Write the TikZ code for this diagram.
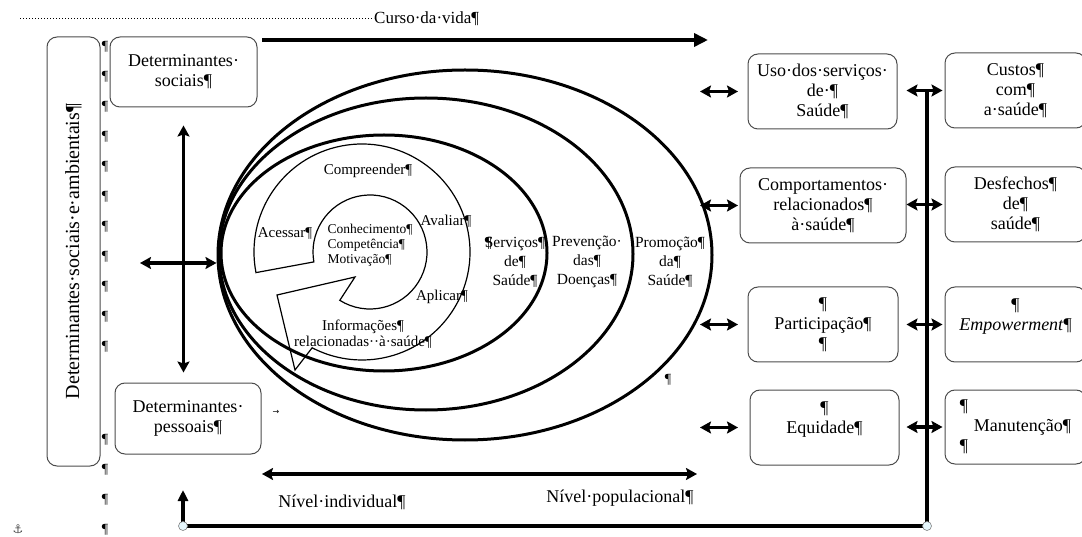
\documentclass[tikz,border=0pt]{standalone}
\usepackage{fontspec}
\setmainfont{Liberation Serif}
\newfontfamily\simbolos{DejaVu Sans}
\usetikzlibrary{arrows.meta, positioning, shapes.geometric, calc}

\tikzset{
  caixa/.style={draw=black!70, line width=1pt, rounded corners=10pt, align=center, inner sep=0pt, font=\fontsize{18}{20}\selectfont},
  elipse/.style={ellipse, draw, line width=3pt, inner sep=0pt},
  rotulo/.style={align=center, inner sep=0pt, font=\fontsize{15.5}{19}\selectfont},
  anel/.style={align=center, inner sep=0pt, font=\fontsize{15}{16.5}\selectfont},
  texto/.style={inner sep=0pt, font=\fontsize{18}{20}\selectfont},
  marca/.style={inner sep=0pt, font=\fontsize{14}{14}\selectfont},
  seta/.style={line width=4pt, -{Triangle[length=14pt, width=13pt]}},
  dupla/.style={line width=3.5pt, {Stealth[length=11pt, width=12pt, inset=2pt]}-{Stealth[length=11pt, width=12pt, inset=2pt]}},
  linhagrossa/.style={line width=4pt},
}

\begin{document}
\begin{tikzpicture}[x=1pt, y=-1pt]
    \useasboundingbox (0,0) rectangle (1082,537);
    \clip (0,0) rectangle (1082,537);

    % curso da vida
    \coordinate (pontilhado) at (20,19);
    \node[texto, font=\fontsize{17}{20}\selectfont, anchor=west] (curso) at (374,19) {Curso·da·vida¶};
    \draw[dotted, line width=1pt] (pontilhado) -- (curso.west);
    \coordinate (vidaA) at (262,40);
    \coordinate (vidaB) at (708,40);
    \draw[seta] (vidaA) -- (vidaB);

    % elipses
    \node[elipse, minimum width=494, minimum height=370] (epromo) at (465,255) {};
    \node[elipse, minimum width=414, minimum height=312] (eprev) at (426,254) {};
    \node[elipse, minimum width=326, minimum height=236] (eserv) at (384,253) {};
    \node[rotulo] (tserv) at (515,262) {\rlap{¶}Serviços¶\\de¶\\Saúde¶};
    \node[rotulo] (tprev) at (587,262) {Prevenção·\\das¶\\Doenças¶};
    \node[rotulo] (tpromo) at (670,262) {Promoção¶\\da¶\\Saúde¶};
    \node[marca] (psolto) at (668,380) {¶};

    % anel do letramento
    \coordinate (cext) at (362,252);
    \coordinate (cint) at (370,252);
    \draw[line width=1.2pt] ($(cext)+(169:108)$) arc[start angle=169, end angle=477.5, radius=108]
        -- (295,370) -- (277,295) -- (355,277)
        -- ($(cint)+(122:57)$) arc[start angle=122, end angle=-190, radius=57] -- cycle;
    \node[anel] (compr) at (368,171) {Compreender¶};
    \node[anel] (aces) at (285,233) {Acessar¶};
    \node[anel] (aval) at (446,221) {Avaliar¶};
    \node[anel] (apli) at (442,297) {Aplicar¶};
    \node[anel] (info) at (363,334) {Informações¶\\relacionadas··à·saúde¶};
    \node[anel, align=left, font=\fontsize{13.5}{15}\selectfont] (nucleo) at (370,245) {Conhecimento¶\\Competência¶\\Motivação¶};

    % determinantes
    \node[caixa, rotate=90, minimum width=429, minimum height=53, font=\fontsize{20}{22}\selectfont] (damb) at (73.5,251.5) {Determinantes·sociais·e·ambientais¶};
    \node[caixa, minimum width=147, minimum height=70] (dsoc) at (183.5,72) {Determinantes·\\sociais¶};
    \node[caixa, minimum width=146, minimum height=71] (dpes) at (188,418.5) {Determinantes·\\pessoais¶};
    \draw[dupla, shorten <=18pt, shorten >=10pt] (dsoc.south) -- (dsoc.south |- dpes.north);
    \coordinate (cruzE) at (140,263);
    \draw[dupla] (cruzE) -- (cruzE -| epromo.west);
    \node[font=\simbolos\fontsize{8}{8}\selectfont, inner sep=0pt] (tab) at (276,412) {→};
    \foreach \y in {47,77,...,347} \node[marca] (pa\y) at (105,\y) {¶};
    \foreach \y in {440,470,500,530} \node[marca] (pb\y) at (105,\y) {¶};
    \node[inner sep=0pt, font=\simbolos\fontsize{12}{12}\selectfont, black!70] (ancora) at (18,529) {⚓};

    % desfechos
    \node[caixa, minimum width=149, minimum height=75] (uso) at (822.5,91.5) {Uso·dos·serviços·\\de·¶\\Saúde¶};
    \node[caixa, minimum width=166, minimum height=75] (comp) at (823,205.5) {Comportamentos·\\relacionados¶\\à·saúde¶};
    \node[caixa, minimum width=150, minimum height=75] (part) at (823,324.5) {¶\\Participação¶\\¶};
    \node[caixa, minimum width=149, minimum height=75] (equi) at (824.5,427.5) {¶\\Equidade¶\\~};
    \node[caixa, minimum width=141, minimum height=75] (custos) at (1015.5,90.5) {Custos¶\\com¶\\a·saúde¶};
    \node[caixa, minimum width=141, minimum height=75] (desf) at (1015.5,204.5) {Desfechos¶\\de¶\\saúde¶};
    \node[caixa, minimum width=141, minimum height=75] (empo) at (1015.5,324.5) {¶\\\textit{Empowerment}¶\\~};
    \node[caixa, minimum width=141, minimum height=74, align=left] (manu) at (1015.5,427) {¶\\\hspace{14pt}Manutenção¶\\¶};
    \coordinate (xesq) at (700,0);
    \coordinate (xdir) at (738,0);
    \foreach \c in {uso, comp, part, equi}
        \draw[dupla] (\c.west -| xesq) -- (\c.west -| xdir);
    \foreach \c in {custos, desf, empo, manu}
        \draw[dupla] ([xshift=-38pt]\c.west) -- ([xshift=-2pt]\c.west);

    % niveis
    \coordinate (nivA) at (262,474);
    \coordinate (nivB) at (697,474);
    \draw[dupla] (nivA) -- (nivB);
    \node[texto] (nind) at (342,502) {Nível·individual¶};
    \node[texto] (npop) at (620,498) {Nível·populacional¶};

    % retorno
    \coordinate (cantoE) at (183,526);
    \coordinate (cantoD) at (927,526);
    \coordinate (setaE) at (183,490);
    \draw[linhagrossa] (cantoD |- custos.west) -- (cantoD) -- (cantoE);
    \draw[seta, -{Triangle[length=11pt, width=10pt]}] (cantoE) -- (setaE);
    \foreach \p in {cantoE, cantoD} \draw[black!50, fill=cyan!10, line width=0.6pt] (\p) circle (4.5pt);
\end{tikzpicture}
\end{document}
